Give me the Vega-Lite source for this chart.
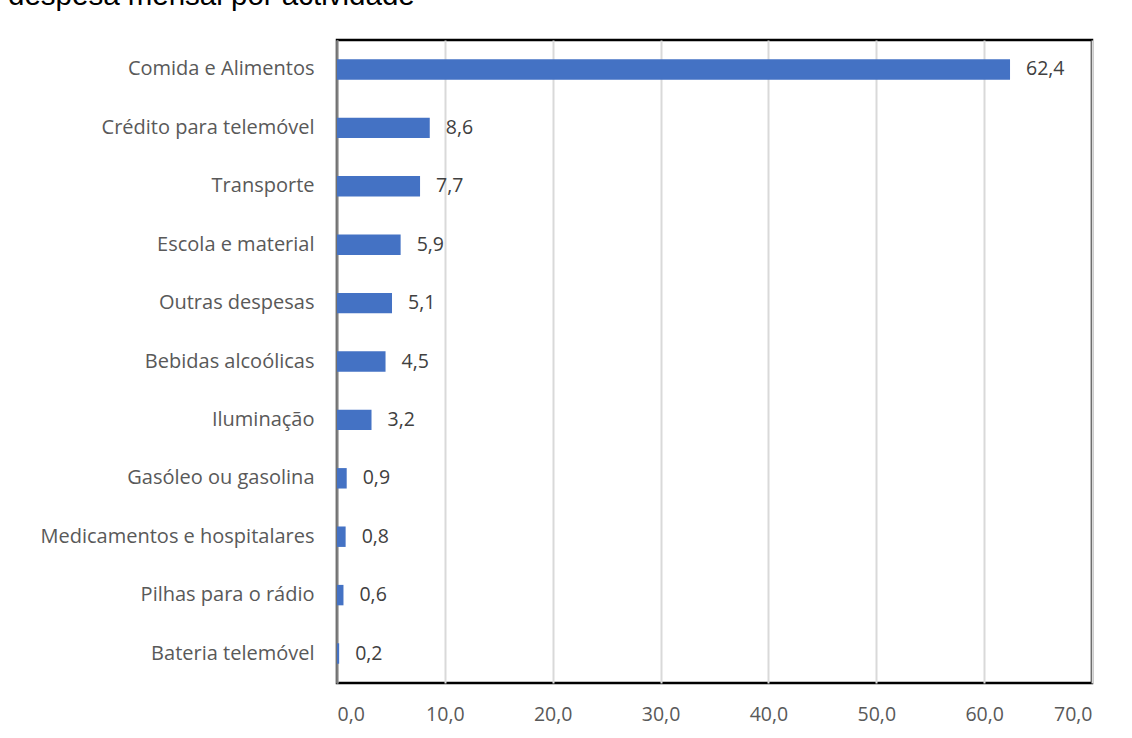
{
  "$schema": "https://vega.github.io/schema/vega-lite/v6.json",
  "width": 755,
  "height": 643,
  "autosize": {"type": "none"},
  "padding": {"left": 337, "top": 40, "right": 40, "bottom": 55},
  "background": "white",
  "view": {"stroke": "#000000", "strokeWidth": 2.5},
  "title": {
    "text": "despesa mensal por actividade",
    "anchor": "start",
    "frame": "group",
    "orient": "top",
    "font": "Liberation Sans",
    "fontSize": 29.5,
    "fontWeight": "normal",
    "color": "#000000",
    "dx": -329,
    "dy": -6,
    "baseline": "alphabetic",
    "offset": 0
  },
  "config": {
    "locale": {"number": {"decimal": ",", "thousands": ".", "grouping": [3], "currency": ["", " €"]}}
  },
  "data": {
    "values": [
      {"categoria": "Comida e Alimentos", "valor": 62.4},
      {"categoria": "Crédito para telemóvel", "valor": 8.6},
      {"categoria": "Transporte", "valor": 7.7},
      {"categoria": "Escola e material", "valor": 5.9},
      {"categoria": "Outras despesas", "valor": 5.1},
      {"categoria": "Bebidas alcoólicas", "valor": 4.5},
      {"categoria": "Iluminação", "valor": 3.2},
      {"categoria": "Gasóleo ou gasolina", "valor": 0.9},
      {"categoria": "Medicamentos e hospitalares", "valor": 0.8},
      {"categoria": "Pilhas para o rádio", "valor": 0.6},
      {"categoria": "Bateria telemóvel", "valor": 0.2}
    ]
  },
  "encoding": {
    "y": {
      "field": "categoria",
      "type": "nominal",
      "sort": null,
      "scale": {"paddingInner": 0.65, "paddingOuter": 0.33},
      "axis": {
        "title": null,
        "ticks": false,
        "domain": true,
        "domainColor": "#808080",
        "domainWidth": 1.5,
        "labelFont": "Open Sans",
        "labelFontSize": 20,
        "labelColor": "#595959",
        "labelPadding": 23,
        "labelLimit": 400
      }
    },
    "x": {
      "field": "valor",
      "type": "quantitative",
      "scale": {"domain": [0, 70], "nice": false},
      "axis": {
        "title": null,
        "values": [0, 10, 20, 30, 40, 50, 60, 70],
        "format": ".1f",
        "ticks": false,
        "domain": false,
        "grid": true,
        "gridColor": "#d9d9d9",
        "gridWidth": 2,
        "labelFont": "Open Sans",
        "labelFontSize": 19.5,
        "labelColor": "#595959",
        "labelPadding": 22
      }
    }
  },
  "layer": [
    {"mark": {"type": "bar", "color": "#4472C4"}},
    {
      "mark": {"type": "text", "align": "left", "dx": 16, "font": "Open Sans", "fontSize": 19.5, "color": "#404040"},
      "encoding": {"text": {"field": "valor", "type": "quantitative", "format": ".1f"}}
    }
  ]
}
